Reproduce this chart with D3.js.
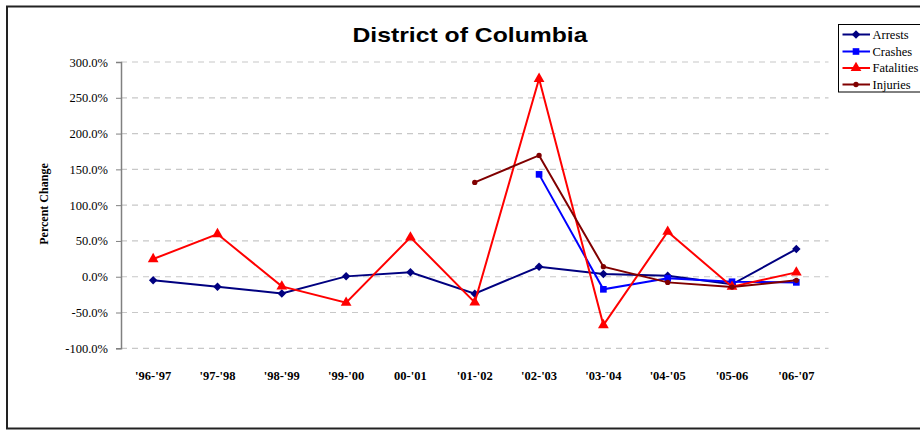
<!DOCTYPE html>
<html>
<head>
<meta charset="utf-8">
<script src="https://cdn.jsdelivr.net/npm/d3@7"></script>
<style>
  html, body { margin: 0; padding: 0; background: #fff; }
  svg { display: block; }
</style>
</head>
<body>
<svg id="chart" width="920" height="431"></svg>
<script>
const categories = ["'96-'97", "'97-'98", "'98-'99", "'99-'00", "00-'01", "'01-'02", "'02-'03", "'03-'04", "'04-'05", "'05-06", "'06-'07"];
const arrests    = [-5.0, -14.0, -23.3, 0.5, 6.1, -23.7, 14.0, 3.8, 1.4, -10.6, 38.7];
const crashes    = [null, null, null, null, null, null, 143.0, -17.6, -2.3, -7.0, -7.9];
const fatalities = [24.7, 59.6, -13.5, -36.3, 55.0, -35.8, 276.5, -67.5, 62.9, -14.0, 6.1];
const injuries   = [null, null, null, null, null, 131.8, 169.5, 14.0, -7.9, -14.4, -5.0];
const yTicks     = [-100, -50, 0, 50, 100, 150, 200, 250, 300];
const seriesNames = ["Arrests", "Crashes", "Fatalities", "Injuries"];

// square diamond symbol (equal width and height)
const symbolRhombus = {
  draw(context, size) {
    const r = Math.sqrt(size / 2);
    context.moveTo(0, -r);
    context.lineTo(r, 0);
    context.lineTo(0, r);
    context.lineTo(-r, 0);
    context.closePath();
  }
};

const series = [
  { name: seriesNames[0], values: arrests,    color: "#000080", symbol: symbolRhombus,    size: 36 },
  { name: seriesNames[1], values: crashes,    color: "#0000FF", symbol: d3.symbolSquare,   size: 44 },
  { name: seriesNames[2], values: fatalities, color: "#FF0000", symbol: d3.symbolTriangle, size: 50 },
  { name: seriesNames[3], values: injuries,   color: "#800000", symbol: d3.symbolCircle,   size: 22 }
];

const svg = d3.select("#chart");

// Outer chart border
svg.append("rect")
  .attr("x", 7).attr("y", 6.5).attr("width", 930).attr("height", 422)
  .attr("fill", "#fff").attr("stroke", "#222").attr("stroke-width", 2);

const x = d3.scaleBand().domain(categories).range([121, 828.5]).padding(0);
const y = d3.scaleLinear().domain([-100, 300]).range([348.3, 62]);

// Gridlines
svg.append("g").selectAll("line")
  .data(yTicks)
  .join("line")
  .attr("x1", 121).attr("x2", 828.5)
  .attr("y1", d => y(d)).attr("y2", d => y(d))
  .attr("stroke", "#c8c8c8").attr("stroke-width", 1.2)
  .attr("stroke-dasharray", "6,5");

// Y axis
const yAxis = svg.append("g")
  .attr("transform", "translate(121,0)")
  .call(d3.axisLeft(y).tickValues(yTicks).tickSize(5).tickPadding(8)
    .tickFormat(d => d.toFixed(1) + "%"));
yAxis.select(".domain").attr("stroke", "#808080").attr("stroke-width", 1.5);
yAxis.selectAll(".tick line").attr("stroke", "#808080");
yAxis.selectAll("text")
  .attr("font-family", "'Liberation Serif', 'Times New Roman', serif")
  .attr("font-size", "12.5px").attr("fill", "#000");

// Y axis title
svg.append("text")
  .attr("transform", "translate(48,204) rotate(-90)")
  .attr("text-anchor", "middle")
  .attr("font-family", "'Liberation Serif', 'Times New Roman', serif")
  .attr("font-weight", "bold").attr("font-size", "12px")
  .text("Percent Change");

// X labels
svg.append("g").selectAll("text")
  .data(categories)
  .join("text")
  .attr("x", d => x(d) + x.bandwidth() / 2)
  .attr("y", 380)
  .attr("text-anchor", "middle")
  .attr("font-family", "'Liberation Serif', 'Times New Roman', serif")
  .attr("font-weight", "bold").attr("font-size", "12.5px")
  .text(d => d);

// Title
svg.append("text")
  .attr("x", 470).attr("y", 42)
  .attr("text-anchor", "middle")
  .attr("font-family", "'Liberation Sans', Arial, sans-serif")
  .attr("font-weight", "bold").attr("font-size", "21px")
  .attr("textLength", 235).attr("lengthAdjust", "spacingAndGlyphs")
  .text("District of Columbia");

// Lines and markers
const line = d3.line()
  .defined(d => d.v !== null)
  .x(d => x(d.c) + x.bandwidth() / 2)
  .y(d => y(d.v));

series.forEach(s => {
  const pts = categories.map((c, i) => ({ c: c, v: s.values[i] }));
  svg.append("path")
    .datum(pts)
    .attr("d", line)
    .attr("fill", "none")
    .attr("stroke", s.color)
    .attr("stroke-width", 2);
  svg.append("g").selectAll("path")
    .data(pts.filter(d => d.v !== null))
    .join("path")
    .attr("transform", d => `translate(${x(d.c) + x.bandwidth() / 2},${y(d.v)})`)
    .attr("d", d3.symbol().type(s.symbol).size(s.size))
    .attr("fill", s.color);
});

// Legend
const lg = svg.append("g");
lg.append("rect")
  .attr("x", 838.5).attr("y", 24.5).attr("width", 100).attr("height", 67.5)
  .attr("fill", "#fff").attr("stroke", "#000").attr("stroke-width", 1);
const ly = [34.5, 51.5, 68, 84.5];
series.forEach((s, i) => {
  lg.append("line")
    .attr("x1", 842.5).attr("x2", 870)
    .attr("y1", ly[i]).attr("y2", ly[i])
    .attr("stroke", s.color).attr("stroke-width", 2);
  lg.append("path")
    .attr("transform", `translate(856,${ly[i]})`)
    .attr("d", d3.symbol().type(s.symbol).size(s.size))
    .attr("fill", s.color);
  lg.append("text")
    .attr("x", 872.5).attr("y", ly[i] + 4)
    .attr("font-family", "'Liberation Serif', 'Times New Roman', serif")
    .attr("font-size", "12.5px")
    .text(s.name);
});
</script>
</body>
</html>
